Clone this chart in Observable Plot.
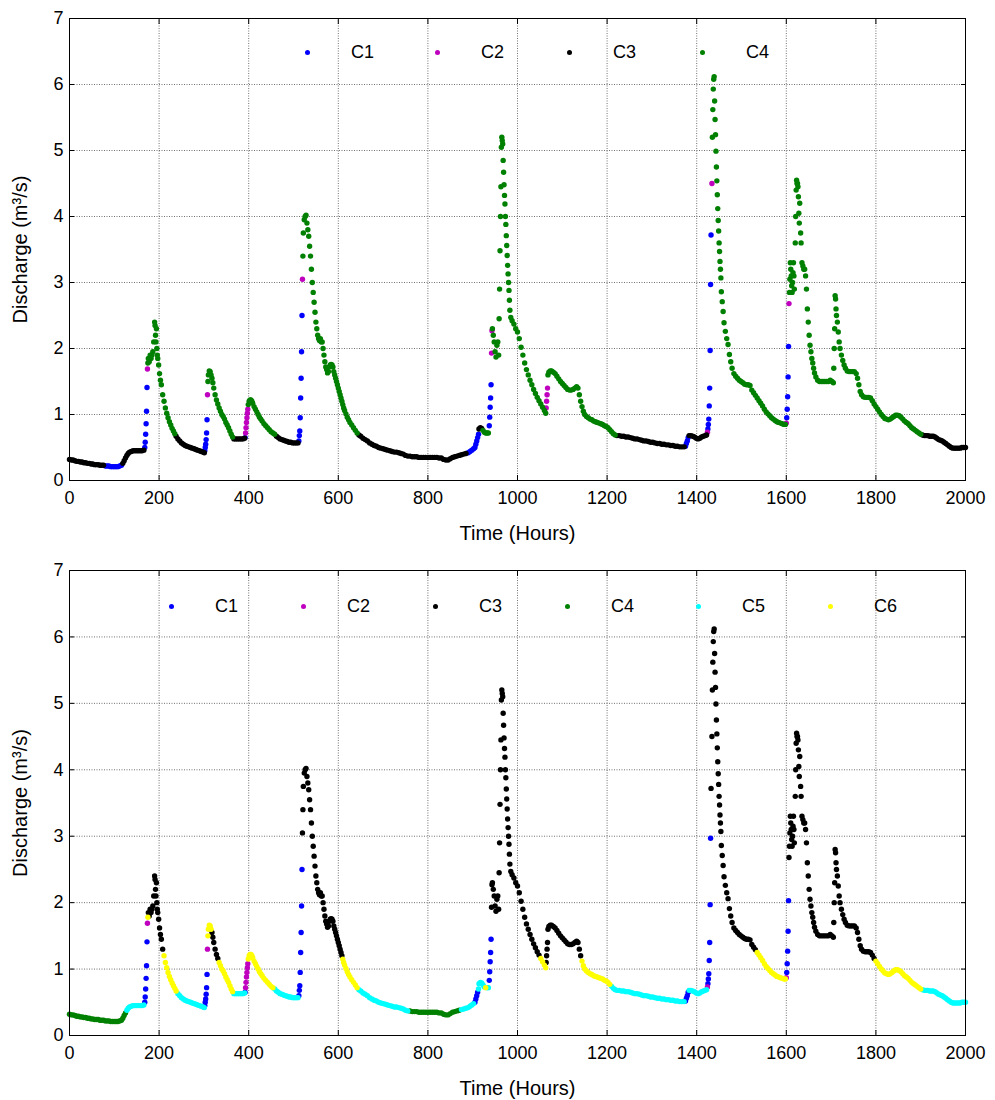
<!DOCTYPE html>
<html>
<head>
<meta charset="utf-8">
<script src="https://cdn.jsdelivr.net/npm/d3@7"></script>
<script src="https://cdn.jsdelivr.net/npm/@observablehq/plot@0.6"></script>
<style>
  html, body { margin: 0; padding: 0; background: #fff; }
  #page { position: relative; width: 995px; height: 1100px; font-family: "Liberation Sans", Arial, sans-serif; }
  .panel { position: absolute; left: 0; width: 995px; }
  .panel svg { display: block; }
  .leg-dot { position: absolute; width: 5px; height: 5px; border-radius: 50%; }
  .leg-txt { position: absolute; font-size: 18px; line-height: 18px; color: #000; }
</style>
</head>
<body>
<div id="page"></div>
<script>
// ---- Hydrograph readings: [hour, discharge m3/s] ----
const baseflow0 = [[0,.32],[4,.31],[8,.31],[12,.30],[16,.29],[20,.29],[24,.28],[28,.28],[32,.27],[36,.27],[40,.26],[44,.26],[48,.25],[52,.25],[56,.24],[60,.24],[64,.24],[68,.23],[72,.23],[76,.23],[80,.22],[84,.22],[88,.22],[92,.21],[96,.21],[100,.21],[104,.21],[108,.21],[112,.22],[116,.23],[119,.26],[122,.30],[125,.34],[128,.38],[131,.41],[134,.43],[138,.44],[142,.45],[146,.45],[150,.45],[154,.45],[158,.45],[162,.45],[166,.46]];
const event1 = [[168,.50],[169,.58],[170,.70],[171,.86],[172,1.05],[173,1.41],[174,1.69],[175,1.78],[176,1.85],[178,1.80],[180,1.90],[182,1.85],[184,1.90],[186,1.95],[188,2.10],[190,2.40],[191,2.35],[192,2.20],[193,2.10],[194,2.30],[195,2.00],[196,1.90],[197,1.85],[199,1.75],[201,1.62],[203,1.52],[205,1.45],[208,1.30],[211,1.20],[214,1.10],[217,1.02],[220,0.95],[223,0.89],[226,0.84],[229,0.79],[232,0.75],[235,0.71],[238,0.67],[242,0.63],[246,0.60],[250,0.57],[254,0.55],[258,0.53],[262,0.52],[266,0.51],[270,0.50],[274,0.49],[278,0.48],[282,0.47],[286,0.46],[290,0.45],[294,0.44],[298,0.43],[301,0.42]];
const event2 = [[302,.45],[303,.50],[304,.55],[305,.62],[306,.72],[307,.92],[308,1.30],[309,1.50],[310,1.60],[312,1.66],[314,1.65],[316,1.60],[318,1.55],[320,1.48],[322,1.40],[325,1.30],[328,1.22],[331,1.16],[334,1.10],[337,1.05],[340,1.00],[343,0.97],[346,0.93],[349,0.88],[352,0.84],[355,0.80],[358,0.75],[361,0.70],[364,0.66],[367,0.63],[371,0.63],[375,0.63],[379,0.63],[383,0.63],[387,0.63],[391,0.64]];
const event3 = [[392,.65],[393,.72],[394,.80],[395,.88],[396,.95],[397,1.02],[398,1.08],[399,1.15],[401,1.20],[403,1.22],[405,1.22],[407,1.20],[409,1.17],[412,1.12],[415,1.08],[418,1.04],[421,1.00],[424,0.96],[427,0.93],[430,0.90],[434,0.86],[438,0.83],[442,0.80],[446,0.77],[450,0.74],[454,0.72],[458,0.70],[462,0.67],[466,0.65],[470,0.63],[474,0.62],[478,0.61],[482,0.60],[486,0.59],[490,0.58],[494,0.58],[498,0.57],[502,0.57],[506,0.57],[510,0.57]];
const event4 = [[512,.60],[513,.68],[514,.75],[515,.95],[516,1.25],[517,1.55],[518,1.95],[519,2.50],[520,3.05],[521,3.40],[522,3.75],[524,3.95],[526,4.00],[528,4.02],[530,3.90],[532,3.80],[534,3.70],[536,3.55],[538,3.40],[540,3.20],[542,3.00],[544,2.85],[546,2.70],[548,2.55],[550,2.40],[552,2.30],[554,2.20],[556,2.15],[558,2.12],[560,2.15],[562,2.10],[564,2.10],[566,2.00],[568,1.90],[570,1.80],[572,1.72],[574,1.68],[576,1.63],[578,1.65],[580,1.72],[582,1.75],[584,1.76],[586,1.75],[588,1.72],[590,1.65],[592,1.60],[594,1.55],[596,1.50],[598,1.45],[600,1.40],[602,1.35],[604,1.30],[606,1.25],[608,1.20],[610,1.15],[612,1.10],[614,1.06],[617,1.01],[620,0.96],[623,0.92],[626,0.88],[630,0.84],[634,0.80],[638,0.76],[642,0.72],[646,0.69],[650,0.67],[655,0.64],[660,0.62],[665,0.60],[670,0.57],[675,0.55],[680,0.53],[685,0.52],[690,0.50],[695,0.49],[700,0.48],[705,0.47],[710,0.46],[715,0.45],[720,0.44],[725,0.43],[730,0.43],[735,0.42],[740,0.41],[745,0.40],[750,0.38],[755,0.37],[760,0.37],[765,0.36],[770,0.36],[775,0.36],[780,0.35],[785,0.35],[790,0.35],[795,0.35],[800,0.35],[805,0.35],[810,0.35],[815,0.35],[820,0.35],[825,0.34],[830,0.34],[835,0.32],[840,0.31],[845,0.31],[850,0.33],[855,0.35],[860,0.36],[865,0.37],[870,0.38],[875,0.39],[880,0.40],[885,0.41]];
const event5 = [[890,.42],[894,.44],[898,.46],[902,.48],[905,.50],[907,.55],[909,.60],[911,.65],[913,.70],[914,.78],[917,.80],[920,.79],[923,.76],[926,.73],[929,.72],[932,.72],[935,.72],[937,.83],[938,.96],[939,1.11],[940,1.25],[941,1.45],[942,1.93],[943,2.27],[944,2.30],[946,2.20],[948,2.10],[950,1.95],[952,1.87],[954,2.05],[956,2.10],[958,1.90],[959,2.45],[960,2.90],[961,3.48],[962,4.00],[963,4.45],[964,5.05],[965,5.20],[966,5.15],[967,5.10],[968,4.85],[969,4.67],[970,4.48],[971,4.32],[972,4.19],[973,4.00],[974,3.88],[975,3.71],[976,3.56],[977,3.41],[978,3.26],[979,3.13],[980,3.00],[981,2.88],[982,2.73],[983,2.58],[985,2.47],[988,2.42],[992,2.37],[996,2.30],[1000,2.25],[1004,2.15],[1008,2.02],[1012,1.90],[1016,1.78],[1020,1.68],[1024,1.60],[1028,1.52],[1032,1.45],[1036,1.38],[1040,1.32],[1044,1.26],[1048,1.21],[1052,1.16],[1056,1.11],[1060,1.06],[1063,1.02]];
const event6 = [[1064,1.10],[1065,1.20],[1066,1.30],[1067,1.40],[1068,1.60],[1070,1.64],[1073,1.66],[1076,1.66],[1080,1.64],[1084,1.62],[1088,1.58],[1092,1.54],[1096,1.50],[1100,1.47],[1104,1.44],[1108,1.41],[1112,1.38],[1116,1.37],[1120,1.37],[1124,1.38],[1128,1.40],[1132,1.42],[1135,1.40],[1138,1.30],[1141,1.20],[1144,1.12],[1147,1.05],[1150,1.00],[1154,0.97],[1158,0.95],[1162,0.93],[1166,0.92],[1170,0.90],[1174,0.89],[1178,0.88],[1182,0.87],[1186,0.86],[1190,0.85],[1194,0.83],[1198,0.82],[1202,0.80],[1206,0.77],[1210,0.74],[1214,0.71],[1218,0.69],[1222,0.68],[1227,0.68],[1232,0.67],[1237,0.67],[1242,0.66],[1247,0.66],[1252,0.65],[1257,0.64],[1262,0.63],[1267,0.63],[1272,0.62],[1277,0.61],[1282,0.60],[1287,0.60],[1292,0.59],[1297,0.58],[1302,0.58],[1307,0.57],[1312,0.56],[1317,0.56],[1322,0.55],[1327,0.55],[1332,0.54],[1337,0.54],[1342,0.53],[1347,0.53],[1352,0.52],[1357,0.52],[1362,0.51],[1367,0.51],[1372,0.51],[1375,0.52],[1377,0.56],[1379,0.60],[1381,0.65],[1383,0.68],[1387,0.68],[1391,0.67],[1395,0.66],[1399,0.64],[1403,0.63],[1407,0.64],[1411,0.66],[1415,0.67],[1419,0.68],[1422,0.69]];
const event7 = [[1424,.73],[1425,.78],[1426,.85],[1427,.93],[1428,1.13],[1429,1.40],[1430,1.97],[1431,2.97],[1432,3.72],[1434,4.50],[1435,5.20],[1436,5.62],[1437,5.93],[1438,6.08],[1439,6.12],[1440,5.75],[1441,5.47],[1442,5.24],[1443,4.99],[1444,4.75],[1445,4.54],[1446,4.33],[1447,4.12],[1448,3.94],[1449,3.78],[1450,3.60],[1451,3.47],[1452,3.32],[1453,3.20],[1454,3.07],[1455,2.86],[1457,2.71],[1459,2.56],[1461,2.39],[1464,2.26],[1467,2.15],[1470,2.06],[1473,1.91],[1476,1.80],[1479,1.70],[1483,1.62],[1487,1.58],[1491,1.55],[1495,1.52],[1499,1.50],[1503,1.48],[1507,1.46],[1511,1.45],[1515,1.45],[1519,1.44],[1523,1.37],[1527,1.33],[1531,1.29],[1535,1.25],[1539,1.21],[1543,1.17],[1547,1.13],[1551,1.08],[1555,1.04],[1559,1.01],[1563,0.98],[1567,0.95],[1571,0.93],[1575,0.91],[1579,0.89],[1583,0.88],[1587,0.87],[1591,0.86],[1595,0.85],[1598,0.85]];
const event8 = [[1600,.87],[1601,.95],[1602,1.08],[1603,1.27],[1604,1.57],[1605,2.03],[1606,2.68],[1607,2.85],[1608,3.05],[1609,3.30],[1610,3.20],[1611,3.10],[1612,2.95],[1613,2.85],[1614,3.00],[1615,3.15],[1616,3.30],[1617,3.10],[1618,2.90],[1620,3.60],[1621,4.00],[1622,4.40],[1623,4.55],[1624,4.50],[1625,4.50],[1626,4.45],[1627,4.30],[1628,4.05],[1629,3.90],[1630,4.20],[1632,3.75],[1633,3.60],[1635,3.30],[1637,3.25],[1639,3.20],[1641,3.20],[1643,3.10],[1645,2.90],[1647,2.60],[1649,2.40],[1651,2.20],[1653,2.05],[1655,1.95],[1657,1.85],[1659,1.78],[1661,1.70],[1663,1.63],[1666,1.57],[1670,1.52],[1674,1.50],[1678,1.50],[1682,1.50],[1686,1.50],[1690,1.50],[1694,1.50],[1698,1.52],[1702,1.50],[1705,1.48],[1706,1.70],[1707,2.00],[1708,2.30],[1709,2.80],[1710,2.75],[1711,2.60],[1712,2.50],[1714,2.40],[1716,2.25],[1718,2.10],[1720,2.00],[1723,1.90],[1726,1.82],[1729,1.75],[1732,1.70],[1736,1.66],[1740,1.65],[1744,1.65],[1748,1.65],[1752,1.65],[1756,1.62],[1759,1.55],[1762,1.45],[1765,1.35],[1768,1.30],[1772,1.27],[1776,1.26],[1780,1.26],[1784,1.26],[1788,1.25],[1792,1.21],[1796,1.16],[1800,1.12],[1804,1.08],[1808,1.04],[1812,1.00],[1816,0.97],[1820,0.94],[1824,0.93],[1828,0.92],[1832,0.93],[1836,0.95],[1840,0.97],[1844,0.99],[1848,0.99],[1852,0.98],[1856,0.96],[1860,0.93],[1864,0.90],[1868,0.88],[1872,0.86],[1876,0.83],[1880,0.80],[1884,0.78],[1888,0.76],[1892,0.74],[1896,0.72],[1900,0.70],[1904,0.69],[1908,0.68],[1912,0.68],[1916,0.68],[1920,0.67],[1924,0.67],[1928,0.67],[1932,0.66],[1936,0.64],[1940,0.62],[1944,0.61],[1948,0.60],[1952,0.58],[1956,0.56],[1960,0.54],[1964,0.52],[1968,0.50],[1972,0.49],[1976,0.49],[1980,0.49],[1984,0.49],[1988,0.49],[1992,0.50],[1996,0.50],[2000,0.50]];

// ---- Cluster membership (run of hours starting at given hour) ----
const topRunStart   = [0,79,117,168,174,175,238,302,308,309,366,392,393,399,462,512,520,521,644,886,914,922,937,942,944,1064,1068,1222,1375,1383,1424,1425,1434,1435,1599,1601,1606,1607,1904];
const topRunCluster = ["C3","C1","C3","C1","C2","C4","C3","C1","C2","C4","C3","C1","C2","C4","C3","C1","C2","C4","C3","C1","C3","C4","C1","C2","C4","C2","C4","C3","C1","C3","C2","C1","C2","C4","C2","C1","C2","C4","C3"];
const bottomRunStart   = [0,128,168,174,175,176,209,239,302,308,309,318,332,366,392,393,399,458,512,520,610,645,759,875,905,913,929,932,937,942,1050,1064,1143,1210,1375,1383,1424,1425,1432,1535,1599,1601,1606,1797,1901];
const bottomRunCluster = ["C4","C5","C1","C2","C6","C3","C6","C5","C1","C2","C6","C3","C6","C5","C1","C2","C6","C5","C1","C3","C6","C5","C4","C5","C1","C5","C6","C5","C1","C3","C6","C3","C6","C5","C1","C5","C2","C1","C3","C6","C2","C1","C3","C6","C5"];

const topClusters = ["C1","C2","C3","C4"];
const topColors = ["#0000ff","#bf00bf","#000000","#008000"];
const bottomClusters = ["C1","C2","C3","C4","C5","C6"];
const bottomColors = ["#0000ff","#bf00bf","#000000","#008000","#00ffff","#ffff00"];

const xTicks = [0,200,400,600,800,1000,1200,1400,1600,1800,2000];
const yTicks = [0,1,2,3,4,5,6,7];
const xLabel = "Time (Hours)";
const yLabel = "Discharge (m\u00B3/s)";

const series = [baseflow0, event1, event2, event3, event4, event5, event6, event7, event8].flat();

function buildPanel({top, height, marginTop, marginBottom, runStart, runCluster, names, colors, legendY, legendX}) {
  const data = series.map(([hour, q]) => {
    const i = d3.bisectRight(runStart, hour) - 1;
    return {hour, q, cluster: runCluster[i]};
  }).sort((a, b) => names.indexOf(a.cluster) - names.indexOf(b.cluster));

  const chart = Plot.plot({
    width: 995, height, marginLeft: 69, marginRight: 30, marginTop, marginBottom,
    style: {fontFamily: "'Liberation Sans', Arial, sans-serif", fontSize: "18px", color: "#000", background: "#fff", overflow: "visible"},
    x: {domain: [0, 2000]},
    y: {domain: [0, 7]},
    color: {domain: names, range: colors},
    marks: [
      Plot.gridX(xTicks, {stroke: "#4d4d4d", strokeOpacity: 0.8, strokeDasharray: "1,1.5"}),
      Plot.gridY(yTicks, {stroke: "#4d4d4d", strokeOpacity: 0.8, strokeDasharray: "1,1.5"}),
      Plot.dot(data, {x: "hour", y: "q", fill: "cluster", r: 2.7}),
      Plot.frame({stroke: "#000", strokeWidth: 1}),
      Plot.axisX(xTicks, {anchor: "bottom", tickSize: -5, tickPadding: 16, fontSize: 18, tickFormat: d => String(d), label: null}),
      Plot.axisX({anchor: "bottom", ticks: [], label: xLabel, fontSize: 20, labelAnchor: "center", labelArrow: "none", labelOffset: 59}),
      Plot.axisX(xTicks, {anchor: "top", tickSize: -5, tickFormat: () => "", label: null}),
      Plot.axisY(yTicks, {anchor: "left", tickSize: -5, tickPadding: 11, fontSize: 18, tickFormat: d => String(d), label: null}),
      Plot.axisY({anchor: "left", ticks: [], label: yLabel, fontSize: 20, labelAnchor: "center", labelArrow: "none", labelOffset: 57}),
      Plot.axisY(yTicks, {anchor: "right", tickSize: -5, tickFormat: () => "", label: null})
    ]
  });

  const wrap = document.createElement("div");
  wrap.className = "panel";
  wrap.style.top = top + "px";
  wrap.appendChild(chart);
  names.forEach((name, k) => {
    const dot = document.createElement("div");
    dot.className = "leg-dot";
    dot.style.background = colors[k];
    dot.style.left = (legendX[k] - 2.5) + "px";
    dot.style.top = (legendY - 2.5) + "px";
    wrap.appendChild(dot);
    const txt = document.createElement("div");
    txt.className = "leg-txt";
    txt.textContent = name;
    txt.style.left = (legendX[k] + 44) + "px";
    txt.style.top = (legendY - 9) + "px";
    wrap.appendChild(txt);
  });
  return wrap;
}

const page = document.getElementById("page");
page.appendChild(buildPanel({top: 0, height: 550, marginTop: 18, marginBottom: 70,
  runStart: topRunStart, runCluster: topRunCluster, names: topClusters, colors: topColors,
  legendY: 52, legendX: [307, 437, 569, 702]}));
page.appendChild(buildPanel({top: 550, height: 550, marginTop: 20, marginBottom: 65,
  runStart: bottomRunStart, runCluster: bottomRunCluster, names: bottomClusters, colors: bottomColors,
  legendY: 56, legendX: [171, 303, 435, 567, 698, 830]}));
</script>
</body>
</html>
